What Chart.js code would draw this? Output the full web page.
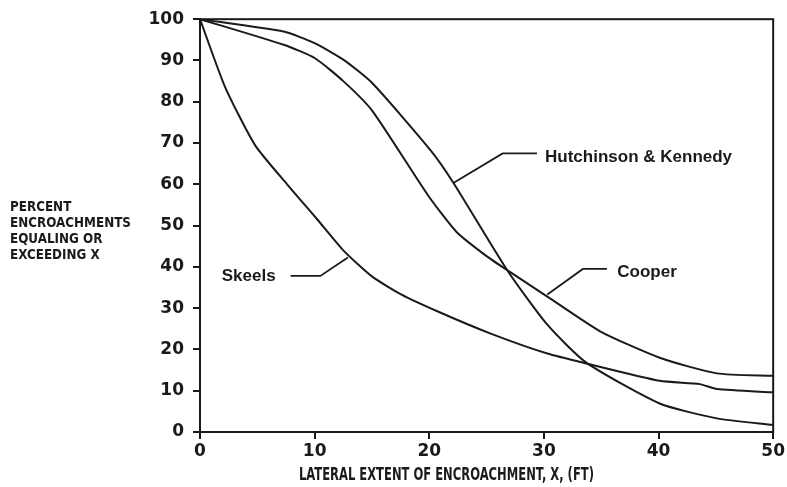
<!DOCTYPE html>
<html>
<head>
<meta charset="utf-8">
<script src="https://cdn.jsdelivr.net/npm/chart.js@4"></script>
<style>
html,body{margin:0;padding:0;background:#fff;}
#wrap{width:787px;height:487px;}
</style>
</head>
<body>
<div id="wrap"><canvas id="c" width="787" height="487"></canvas></div>
<script>
// ---- data ----
const skeelsX = [0, 2.2, 4.8, 7.6, 10.2, 12.5, 15, 17.5, 20.9, 25.3, 30.3, 33.7, 40.1, 43.6, 45.1, 50];
const skeelsY = [100, 83.5, 69.5, 60, 51.6, 44, 37.7, 33.4, 29, 23.9, 19, 16.6, 12.4, 11.6, 10.4, 9.6];

const hkX = [0, 7.3, 10, 12.5, 15, 20.1, 22.1, 26.8, 30.3, 33.7, 40.1, 45.1, 50];
const hkY = [100, 97, 94.2, 90.2, 84.6, 68.3, 60.4, 39.2, 26, 16.8, 6.9, 3.3, 1.7];

const cooperX = [0, 7.3, 10, 12.5, 15, 19.9, 22.4, 25, 26.8, 30.3, 34.9, 40.1, 45.1, 50];
const cooperY = [100, 93.8, 90.6, 85, 77.9, 57.3, 48.4, 42.6, 39.2, 32.8, 24.4, 18, 14.2, 13.6];

const xTickValues = [0, 10, 20, 30, 40, 50];
const yTickValues = [0, 10, 20, 30, 40, 50, 60, 70, 80, 90, 100];

const xTitle = "LATERAL EXTENT OF ENCROACHMENT, X, (FT)";
const yTitleLines = ["PERCENT", "ENCROACHMENTS", "EQUALING OR", "EXCEEDING X"];

// curve labels: text, leader-line path (data units), text anchor (data units)
const labelTexts = ["Hutchinson & Kennedy", "Cooper", "Skeels"];
const labelLeaders = [
  [[22.1, 60.3], [26.4, 67.5], [29.4, 67.5]],
  [[30.3, 33.3], [33.4, 39.5], [35.5, 39.5]],
  [[12.9, 42.3], [10.5, 37.8], [7.9, 37.8]]
];
const labelAnchors = [[30.1, 66.6], [36.4, 38.6], [1.9, 37.6]];

// ---- build ----
const toPts = (xs, ys) => xs.map((x, i) => ({x: x, y: ys[i]}));
const INK = '#1a1a1a';
const NARROW = '"Liberation Sans Narrow", "DejaVu Sans Condensed", sans-serif';

function fitText(ctx, text, x, y, width) {
  const w = ctx.measureText(text).width;
  ctx.save();
  ctx.translate(x, y);
  ctx.scale(width / w, 1);
  ctx.fillText(text, 0, 0);
  ctx.restore();
}

const frameAndLabels = {
  id: 'frameAndLabels',
  afterDatasetsDraw(chart) {
    const ctx = chart.ctx, a = chart.chartArea;
    const sx = chart.scales.x, sy = chart.scales.y;
    ctx.save();
    ctx.strokeStyle = INK;
    ctx.lineWidth = 2;
    ctx.strokeRect(a.left, a.top, a.right - a.left, a.bottom - a.top);
    // leaders
    ctx.lineWidth = 1.8;
    labelLeaders.forEach(path => {
      ctx.beginPath();
      path.forEach((p, i) => {
        const px = sx.getPixelForValue(p[0]), py = sy.getPixelForValue(p[1]);
        if (i === 0) ctx.moveTo(px, py); else ctx.lineTo(px, py);
      });
      ctx.stroke();
    });
    ctx.fillStyle = INK;
    ctx.font = 'bold 17px "Liberation Sans"';
    ctx.textBaseline = 'middle';
    ctx.textAlign = 'left';
    labelTexts.forEach((t, i) => {
      ctx.fillText(t, sx.getPixelForValue(labelAnchors[i][0]), sy.getPixelForValue(labelAnchors[i][1]));
    });
    // y title block
    ctx.font = 'bold 14px ' + NARROW;
    const mid = (a.top + a.bottom) / 2 + 6;
    const lh = 16;
    yTitleLines.forEach((t, i) => {
      fitText(ctx, t, 10, mid + (i - (yTitleLines.length - 1) / 2) * lh, ctx.measureText(t).width * 0.95);
    });
    // x title (condensed, slightly left of centre as in the original)
    ctx.font = 'bold 18px ' + NARROW;
    const tw = 295;
    const cx = a.left + (a.right - a.left) * 0.43;
    fitText(ctx, xTitle, cx - tw / 2, a.bottom + 43, tw);
    ctx.restore();
  }
};

const lineDs = (label, xs, ys) => ({
  label: label,
  data: toPts(xs, ys),
  showLine: true,
  borderColor: INK,
  borderWidth: 2,
  pointRadius: 0,
  tension: 0.2,
  fill: false
});

new Chart(document.getElementById('c'), {
  type: 'scatter',
  data: {
    datasets: [
      lineDs('Hutchinson & Kennedy', hkX, hkY),
      lineDs('Cooper', cooperX, cooperY),
      lineDs('Skeels', skeelsX, skeelsY)
    ]
  },
  options: {
    responsive: false,
    animation: false,
    layout: {padding: {left: 0, right: 12, top: 14, bottom: 0}},
    plugins: {legend: {display: false}, tooltip: {enabled: false}},
    scales: {
      x: {
        type: 'linear', min: 0, max: 50,
        afterBuildTicks: s => { s.ticks = xTickValues.map(v => ({value: v})); },
        afterFit: s => { s.height = 55; },
        grid: {drawOnChartArea: false, drawTicks: true, tickLength: 7, color: INK, lineWidth: 2},
        border: {display: true, color: INK, width: 2},
        ticks: {color: INK, padding: 2, font: {family: '"DejaVu Sans"', size: 17, weight: 'bold'}, maxRotation: 0}
      },
      y: {
        type: 'linear', min: 0, max: 100,
        afterBuildTicks: s => { s.ticks = yTickValues.map(v => ({value: v})); },
        afterFit: s => { s.width = 200; },
        grid: {drawOnChartArea: false, drawTicks: true, tickLength: 7, color: INK, lineWidth: 2},
        border: {display: true, color: INK, width: 2},
        ticks: {color: INK, padding: 9, font: {family: '"DejaVu Sans"', size: 17, weight: 'bold'}}
      }
    }
  },
  plugins: [frameAndLabels]
});
</script>
</body>
</html>
